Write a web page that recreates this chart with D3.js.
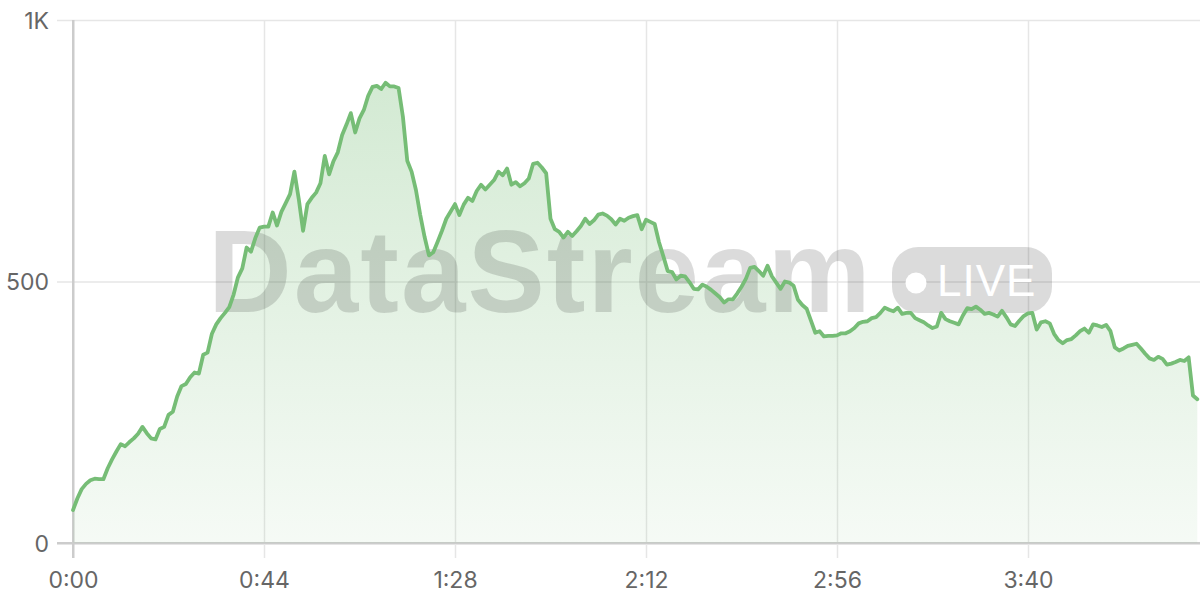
<!DOCTYPE html>
<html>
<head>
<meta charset="utf-8">
<script src="https://cdn.jsdelivr.net/npm/d3@7"></script>
<style>
  html, body { margin: 0; padding: 0; background: #ffffff; }
  svg { display: block; }
  .tick text { font-family: Inter, "Noto Sans", sans-serif; }
</style>
</head>
<body>
<svg id="chart" width="1200" height="600"></svg>
<script>
// ---- data: viewers per second (index = seconds since start) ----
const values = [
  63, 85, 103, 113, 120, 123, 122, 122, 143, 160,
  175, 189, 185, 193, 200, 209, 222, 210, 200, 198,
  218, 222, 245, 251, 280, 300, 304, 317, 326, 324,
  360, 364, 400, 418, 430, 440, 451, 475, 508, 525,
  565, 557, 583, 603, 605, 605, 632, 607, 633, 650,
  667, 710, 658, 597, 648, 660, 670, 688, 740, 705,
  730, 747, 780, 800, 822, 785, 812, 828, 855, 872,
  874, 868, 880, 873, 873, 870, 815, 731, 710, 675,
  627, 585, 550, 556, 576, 597, 620, 634, 648, 627,
  647, 660, 654, 673, 685, 676, 685, 694, 710, 703,
  716, 685, 690, 682, 688, 697, 725, 727, 718, 707,
  620, 600, 595, 584, 595, 587, 596, 606, 620, 610,
  617, 628, 630, 626, 619, 609, 620, 616, 622, 625,
  627, 600, 618, 614, 610, 575, 548, 520, 518, 504,
  511, 510, 499, 486, 485, 494, 490, 484, 477, 470,
  460, 466, 466, 477, 490, 505, 526, 528, 520, 511,
  530, 510, 498, 486, 500, 498, 492, 465, 455, 448,
  425, 402, 405, 395, 396, 396, 397, 401, 401, 405,
  411, 420, 423, 424, 430, 432, 440, 450, 446, 443,
  450, 438, 440, 440, 430, 426, 422, 416, 411, 414,
  440, 428, 424, 421, 418, 435, 449, 447, 452, 446,
  438, 440, 437, 433, 444, 432, 418, 415, 425, 434,
  439, 440, 408, 422, 424, 420, 400, 388, 382, 388,
  390, 397, 405, 410, 402, 418, 416, 413, 417, 405,
  374, 368, 372, 377, 379, 381, 372, 362, 353, 350,
  356, 352, 341, 343, 346, 350, 348, 355, 282, 275
];
const xTickValues = [0, 44, 88, 132, 176, 220];
const xTickLabels = ["0:00", "0:44", "1:28", "2:12", "2:56", "3:40"];
const yTickValues = [0, 500, 1000];
const yTickLabels = ["0", "500", "1K"];
const watermarkText = "DataStream";
const badgeText = "LIVE";

(function () {
// ---- layout ----
const W = 1200, H = 600;
const mLeft = 73, mRight = 1197.3, mTop = 20, mBottom = 543;
const lineColor = "#76bd76";
const gridColor = "#e6e6e6";
const axisColor = "#cccccc";
const labelColor = "#666666";

const svg = d3.select("#chart");

const x = d3.scaleLinear().domain([0, values.length - 1]).range([mLeft, mRight]);
const y = d3.scaleLinear().domain([0, 1000]).range([mBottom, mTop]);

// gradient for area
const defs = svg.append("defs");
const grad = defs.append("linearGradient")
  .attr("id", "areaGrad")
  .attr("gradientUnits", "userSpaceOnUse")
  .attr("x1", 0).attr("x2", 0)
  .attr("y1", y(d3.max(values))).attr("y2", mBottom);
grad.append("stop").attr("offset", "0%").attr("stop-color", lineColor).attr("stop-opacity", 0.32);
grad.append("stop").attr("offset", "100%").attr("stop-color", lineColor).attr("stop-opacity", 0.07);

// horizontal grid + y axis labels
const yAxis = d3.axisLeft(y)
  .tickValues(yTickValues)
  .tickFormat((d, i) => yTickLabels[i])
  .tickSize(-(W - mLeft))
  .tickPadding(8);
const gy = svg.append("g").attr("transform", `translate(${mLeft},0)`).call(yAxis);
gy.select(".domain").remove();
gy.selectAll(".tick line")
  .attr("x1", -16)
  .attr("stroke", (d) => d === 0 ? axisColor : gridColor)
  .attr("stroke-width", (d) => d === 0 ? 2 : 1.5);
gy.selectAll(".tick text")
  .attr("x", -24)
  .attr("fill", labelColor)
  .style("font-size", "23px")
  .attr("dy", "0.35em");

// vertical grid + x axis labels
const xAxis = d3.axisBottom(x)
  .tickValues(xTickValues)
  .tickFormat((d, i) => xTickLabels[i])
  .tickSize(0);
const gx = svg.append("g").attr("transform", `translate(0,${mBottom})`).call(xAxis);
gx.select(".domain").remove();
gx.selectAll(".tick line")
  .attr("y1", mTop - mBottom)
  .attr("y2", 15)
  .attr("stroke", (d) => d === 0 ? axisColor : gridColor)
  .attr("stroke-width", (d) => d === 0 ? 2 : 1.5);
gx.selectAll(".tick text")
  .attr("y", 45)
  .attr("dy", 0)
  .attr("fill", labelColor)
  .style("font-size", "23px");

// axis lines on top of grid
svg.append("line")
  .attr("x1", mLeft - 16).attr("x2", W)
  .attr("y1", y(0)).attr("y2", y(0))
  .attr("stroke", axisColor).attr("stroke-width", 2);
svg.append("line")
  .attr("x1", mLeft).attr("x2", mLeft)
  .attr("y1", mTop).attr("y2", mBottom + 15)
  .attr("stroke", axisColor).attr("stroke-width", 2);

// area
const area = d3.area()
  .x((d, i) => x(i))
  .y0(y(0))
  .y1((d) => y(d));
svg.append("path")
  .datum(values)
  .attr("d", area)
  .attr("fill", "url(#areaGrad)");

// watermark
const wm = svg.append("g").attr("fill", "rgba(0,0,0,0.14)");
wm.append("text")
  .attr("x", 208).attr("y", 312)
  .attr("font-family", "'Liberation Sans', Arial, sans-serif")
  .attr("font-weight", "bold")
  .attr("font-size", 116)
  .attr("letter-spacing", 2)
  .text(watermarkText);
wm.append("rect")
  .attr("x", 892).attr("y", 247)
  .attr("width", 160).attr("height", 66)
  .attr("rx", 26).attr("ry", 26);
svg.append("circle")
  .attr("cx", 916).attr("cy", 283).attr("r", 10.5)
  .attr("fill", "#ffffff");
svg.append("text")
  .attr("x", 937).attr("y", 296)
  .attr("font-family", "'Liberation Sans', Arial, sans-serif")
  .attr("font-size", 44)
  .attr("letter-spacing", 1)
  .attr("fill", "#ffffff")
  .text(badgeText);

// line
const line = d3.line()
  .x((d, i) => x(i))
  .y((d) => y(d));
svg.append("path")
  .datum(values)
  .attr("d", line)
  .attr("fill", "none")
  .attr("stroke", lineColor)
  .attr("stroke-width", 3.8)
  .attr("stroke-linejoin", "round")
  .attr("stroke-linecap", "round");
})();
</script>
</body>
</html>
